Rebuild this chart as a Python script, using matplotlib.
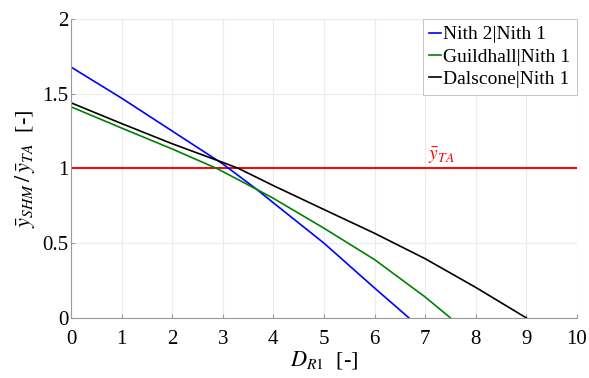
import matplotlib as mpl
mpl.use('Agg')

import matplotlib.pyplot as plt

# values
x_nith2 = [0, 1, 2, 3, 3.67, 4, 5, 6, 6.68]
y_nith2 = [1.678, 1.47, 1.25, 1.03, 0.86, 0.77, 0.50, 0.20, 0.0]

x_guild = [0, 1, 2, 2.88, 3.67, 4, 5, 6, 7, 7.5]
y_guild = [1.412, 1.27, 1.13, 1.0, 0.86, 0.80, 0.60, 0.39, 0.14, 0.0]

x_dals = [0, 1, 2, 3, 3.31, 4, 5, 6, 7, 8, 9]
y_dals = [1.439, 1.30, 1.165, 1.04, 1.0, 0.885, 0.725, 0.566, 0.396, 0.204, 0.0]

y_ta = 1.0
labels = ['Nith 2|Nith 1', 'Guildhall|Nith 1', 'Dalscone|Nith 1']

plt.rcParams['font.family'] = ['Liberation Serif', 'DejaVu Serif']
plt.rcParams['mathtext.fontset'] = 'stix'

fig = plt.figure(figsize=(5.89, 3.78), dpi=100)
ax = fig.add_axes([0.1205, 0.159, 0.859, 0.791])

ax.plot([0, 10], [y_ta, y_ta], color='#ff0000', lw=1.4)
ax.plot(x_nith2, y_nith2, color='#0000ff', lw=1.2, label=labels[0])
ax.plot(x_guild, y_guild, color='#008000', lw=1.2, label=labels[1])
ax.plot(x_dals, y_dals, color='black', lw=1.2, label=labels[2])
ax.text(7.05, 1.015, r'$\bar{y}_{TA}$', color='#ff0000', fontsize=14, va='bottom')

ax.set_xlim(0, 10)
ax.set_ylim(0, 2)
ax.set_xticks(range(0, 11))
ax.set_yticks([0, 0.5, 1, 1.5, 2])
ax.set_yticklabels(['0', '0.5', '1', '1.5', '2'])
ax.grid(color='#ebebeb', lw=0.8)
ax.set_axisbelow(True)
for s in ['top', 'right']:
    ax.spines[s].set_visible(False)
for s in ['left', 'bottom']:
    ax.spines[s].set_color('#9a9a9a')
ax.tick_params(direction='in', length=3, color='#9a9a9a', labelsize=15)
ax.tick_params(axis='x', pad=9)
ax.tick_params(axis='y', pad=2)

ax.set_xlabel(r'$D_{R1}$  [-]', fontsize=16, labelpad=0)
ax.set_ylabel(r'$\bar{y}_{SHM}\,/\,\bar{y}_{TA}$  [-]', fontsize=16, labelpad=4)

leg = ax.legend(loc='upper right', fontsize=14, handlelength=0.6, handletextpad=0.1,
                borderpad=0.35, labelspacing=0.25, fancybox=False, framealpha=1,
                borderaxespad=0)
leg.get_frame().set_edgecolor('#bbbbbb')
leg.get_frame().set_linewidth(0.6)

plt.savefig('out.png', dpi=100)
plt.close()
